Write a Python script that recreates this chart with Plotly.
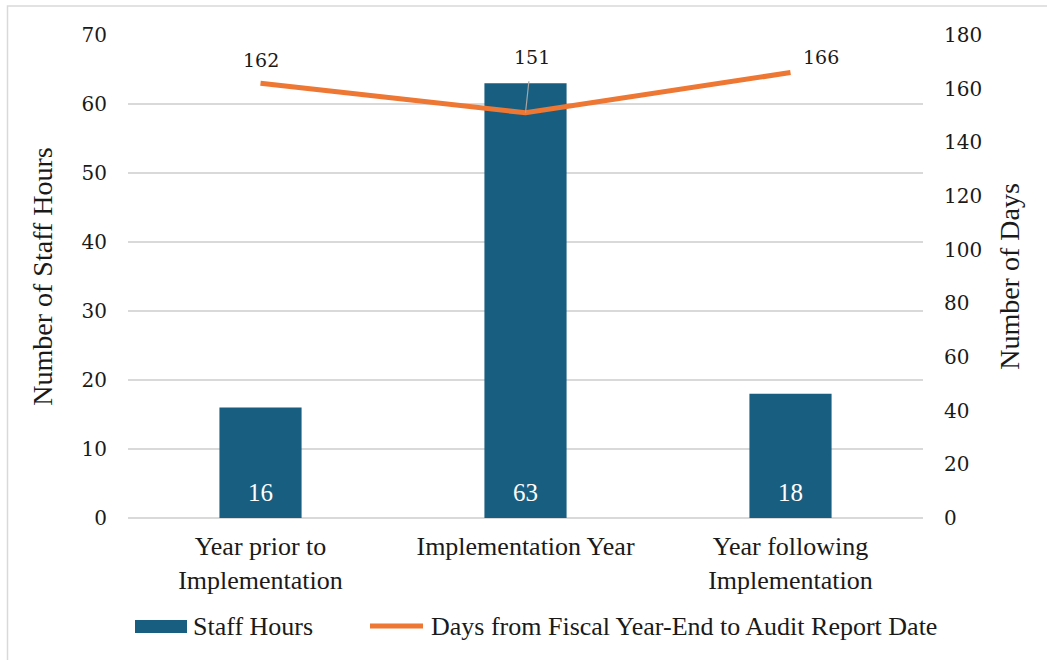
import plotly.graph_objects as go

categories = ["Year prior to<br>Implementation", "Implementation Year", "Year following<br>Implementation"]
staff_hours = [16, 63, 18]
days_to_report = [162, 151, 166]

left_ticks = [0, 10, 20, 30, 40, 50, 60, 70]
right_ticks = [0, 20, 40, 60, 80, 100, 120, 140, 160, 180]

BAR_COLOR = "#175e80"
LINE_COLOR = "#ed7733"
TEXT_COLOR = "#1a1a1a"
GRID_COLOR = "#d9d9d9"
TEXT_FONT = "Liberation Serif"
NUM_FONT = "DejaVu Serif"

# plot area in pixels (used to place the hand-drawn legend and border)
L, R, T, B = 128, 923, 35, 518
PW, PH = R - L, B - T


def px(x):
    return (x - L) / PW


def py(y):
    return (B - y) / PH


fig = go.Figure()

fig.add_trace(go.Bar(
    x=categories, y=staff_hours, name="Staff Hours",
    marker=dict(color=BAR_COLOR, line=dict(width=0)),
    width=0.31,
    yaxis="y",
))

# bar values written near the base of each bar
for cat, val in zip(categories, staff_hours):
    fig.add_annotation(
        x=cat, y=0, xref="x", yref="y", text=str(val),
        showarrow=False, yanchor="bottom", yshift=10,
        font=dict(family=TEXT_FONT, size=25, color="white"),
    )

fig.add_trace(go.Scatter(
    x=categories, y=days_to_report,
    name="Days from Fiscal Year-End to Audit Report Date",
    mode="lines", line=dict(color=LINE_COLOR, width=5),
    yaxis="y2",
))

# value labels for the line; the middle one sits on a leader line
label_offsets = [(0, -23), (6, -56), (30, -16)]
for cat, val, (dx, dy) in zip(categories, days_to_report, label_offsets):
    if dy < -30:
        fig.add_annotation(
            x=cat, y=val, xref="x", yref="y2", text=str(val),
            showarrow=True, arrowhead=0, arrowwidth=1.2, arrowcolor="#a6a6a6",
            ax=dx, ay=dy, standoff=0, startstandoff=12,
            font=dict(family=NUM_FONT, size=19, color=TEXT_COLOR),
        )
    else:
        fig.add_annotation(
            x=cat, y=val, xref="x", yref="y2", text=str(val),
            showarrow=False, xshift=dx, yshift=-dy,
            font=dict(family=NUM_FONT, size=19, color=TEXT_COLOR),
        )

# legend drawn below the axis
leg_y = 626
fig.add_shape(type="rect", xref="paper", yref="paper",
              x0=px(135), x1=px(187), y0=py(633), y1=py(620),
              fillcolor=BAR_COLOR, line=dict(width=0))
fig.add_shape(type="line", xref="paper", yref="paper",
              x0=px(370), x1=px(423), y0=py(leg_y), y1=py(leg_y),
              line=dict(color=LINE_COLOR, width=5))
fig.add_annotation(xref="paper", yref="paper", x=px(191), y=py(leg_y),
                   text="Staff Hours", showarrow=False, xanchor="left", yanchor="middle",
                   font=dict(family=TEXT_FONT, size=26, color=TEXT_COLOR))
fig.add_annotation(xref="paper", yref="paper", x=px(429), y=py(leg_y),
                   text="Days from Fiscal Year-End to Audit Report Date", showarrow=False,
                   xanchor="left", yanchor="middle",
                   font=dict(family=TEXT_FONT, size=26, color=TEXT_COLOR))

# outer chart border
fig.add_shape(type="rect", xref="paper", yref="paper",
              x0=px(7.5), x1=px(1060), y0=py(680), y1=py(6),
              line=dict(color=GRID_COLOR, width=1.5))

fig.update_layout(
    width=1047, height=660,
    margin=dict(l=L, r=1047 - R, t=T, b=660 - B, autoexpand=False),
    plot_bgcolor="white", paper_bgcolor="white",
    showlegend=False,
    xaxis=dict(showgrid=False, tickfont=dict(family=TEXT_FONT, size=26, color=TEXT_COLOR),
               showline=False, ticks="", ticklabelstandoff=10, automargin=False),
    yaxis=dict(range=[0, 70], tickvals=left_ticks, showgrid=True,
               gridcolor=GRID_COLOR, gridwidth=1.5, zeroline=True,
               zerolinecolor=GRID_COLOR, zerolinewidth=1.5, automargin=False,
               tickfont=dict(family=NUM_FONT, size=20, color=TEXT_COLOR),
               ticklabelstandoff=20,
               title=dict(text="Number of Staff Hours", standoff=20,
                          font=dict(family=TEXT_FONT, size=28, color=TEXT_COLOR))),
    yaxis2=dict(range=[0, 180], tickvals=right_ticks, overlaying="y", side="right",
                showgrid=False, zeroline=False, automargin=False,
                tickfont=dict(family=NUM_FONT, size=20, color=TEXT_COLOR),
                ticklabelstandoff=20,
                title=dict(text="Number of Days", standoff=18,
                           font=dict(family=TEXT_FONT, size=28, color=TEXT_COLOR))),
)

fig.write_html("out.html")
